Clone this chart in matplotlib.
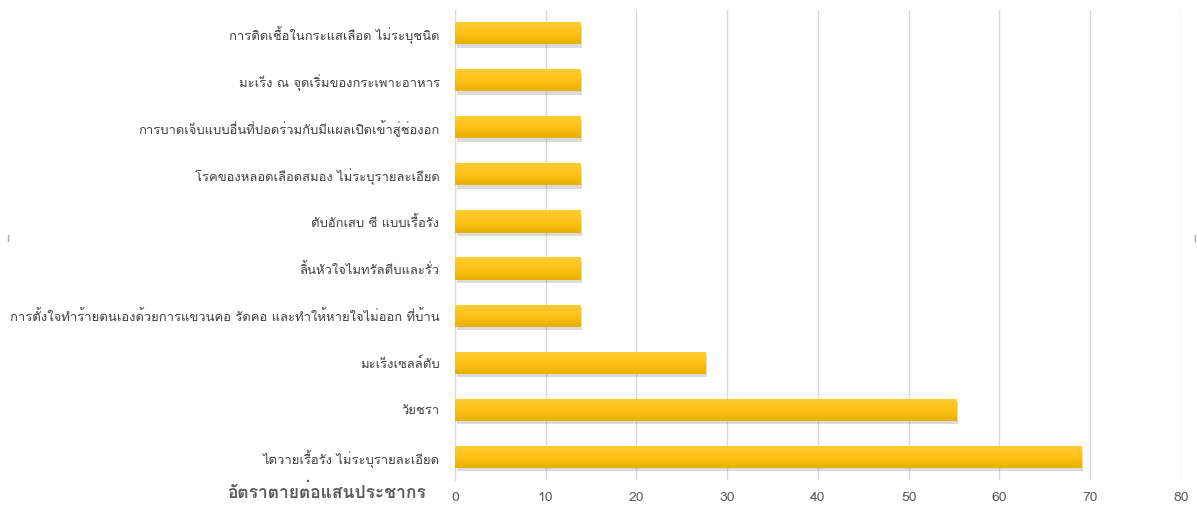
import numpy as np
import matplotlib
matplotlib.use('Agg')
import matplotlib.pyplot as plt
import matplotlib.patheffects as pe
from matplotlib.colors import LinearSegmentedColormap
from matplotlib.lines import Line2D

plt.rcParams['font.family'] = ['Loma', 'Noto Sans Thai Looped', 'DejaVu Sans']

# data (top to bottom as shown)
causes = [
    'การติดเชื้อในกระแสเลือด ไม่ระบุชนิด',
    'มะเร็ง ณ จุดเริ่มของกระเพาะอาหาร',
    'การบาดเจ็บแบบอื่นที่ปอดร่วมกับมีแผลเปิดเข้าสู่ช่องอก',
    'โรคของหลอดเลือดสมอง ไม่ระบุรายละเอียด',
    'ตับอักเสบ ซี แบบเรื้อรัง',
    'ลิ้นหัวใจไมทรัลตีบและรั่ว',
    'การตั้งใจทำร้ายตนเองด้วยการแขวนคอ รัดคอ และทำให้หายใจไม่ออก ที่บ้าน',
    'มะเร็งเซลล์ตับ',
    'วัยชรา',
    'ไตวายเรื้อรัง ไม่ระบุรายละเอียด',
]
rates = [13.8, 13.8, 13.8, 13.8, 13.8, 13.8, 13.8, 27.6, 55.2, 69.0]
xticks = [0, 10, 20, 30, 40, 50, 60, 70, 80]
axis_note = 'อัตราตายต่อแสนประชากร'

fig = plt.figure(figsize=(11.97, 5.17), dpi=100)
ax = fig.add_axes([0.380, 0.0706, 0.6066, 0.911])

ypos = np.arange(len(causes))[::-1]
bars = ax.barh(ypos, rates, height=0.47, color='#FFC000', zorder=3,
               path_effects=[pe.SimplePatchShadow(offset=(1.5, -2.5), shadow_rgbFace='#7F7F7F', alpha=0.28), pe.Normal()])

# vertical gradient on each bar
cmap = LinearSegmentedColormap.from_list('gold', ['#E8B000', '#FFC21A', '#FFCD33'])
grad = np.linspace(0, 1, 64).reshape(-1, 1)
for b in bars:
    x0, y0 = b.get_x(), b.get_y()
    w, h = b.get_width(), b.get_height()
    im = ax.imshow(grad, cmap=cmap, aspect='auto', origin='lower',
                   extent=[x0, x0 + w, y0, y0 + h], zorder=4)
    im.set_clip_path(b)

ax.set_xlim(0, 80)
ax.set_ylim(-0.5, len(causes) - 0.5)
ax.set_xticks(xticks)
ax.set_yticks(ypos)
ax.set_yticklabels(causes, fontsize=9.4, color='#404040')
ax.tick_params(axis='x', labelsize=10, labelcolor='#595959', length=0, pad=8)
ax.tick_params(axis='y', length=0, pad=11)
ax.grid(axis='x', color='#D9D9D9', linewidth=1, zorder=0)
for s in ['top', 'right', 'bottom']:
    ax.spines[s].set_visible(False)
ax.spines['left'].set_color('#D9D9D9')

fig.text(0.356, 0.048, axis_note, fontsize=12.5, fontweight='bold', color='#595959', ha='right', va='center')

# small frame marks at the chart edges
for xf in (0.007, 0.998):
    fig.add_artist(Line2D([xf, xf], [0.533, 0.546], color='#A6A6A6', linewidth=1))

fig.savefig('out.png')
